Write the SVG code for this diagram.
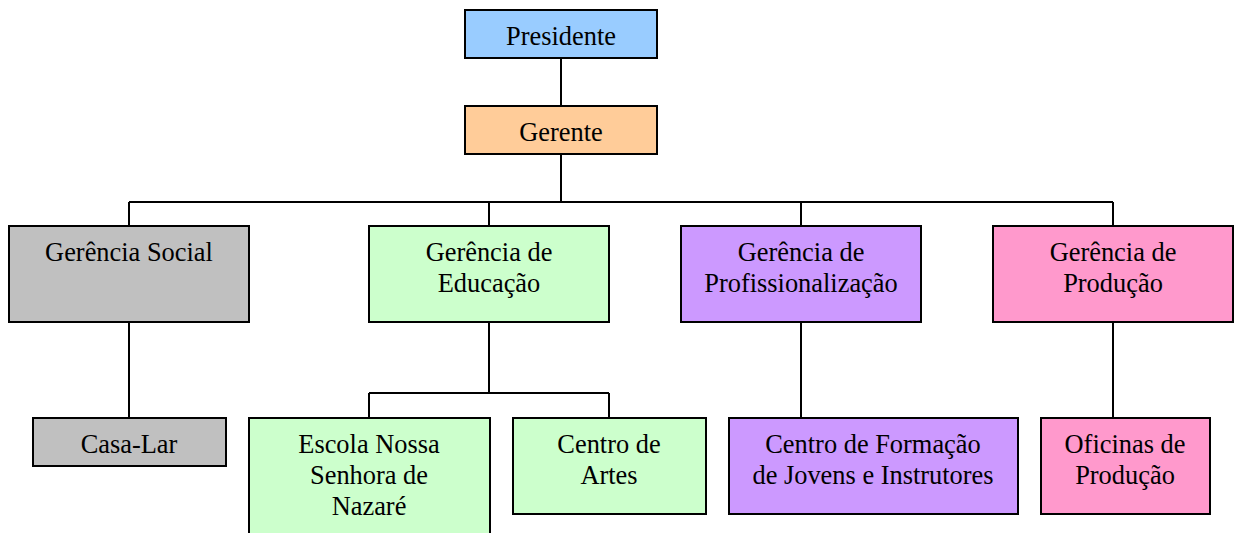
<svg xmlns="http://www.w3.org/2000/svg" width="1234" height="533" viewBox="0 0 1234 533">
<style>
.box{stroke:#000;stroke-width:2}
.t{font-family:"Liberation Serif","Times New Roman",serif;font-size:26.4px;fill:#000;text-anchor:middle}
.c{fill:none;stroke:#000;stroke-width:2}
</style>
<rect width="1234" height="533" fill="#fff"/>
<g id="connectors">
<path class="c" d="M561 58V106M561 154V202M129 202H1113M129 202V226M489 202V226M801 202V226M1113 202V226"/>
<path class="c" d="M129 322V418M489 322V393M369 393H609M369 393V418M609 393V418M801 322V418M1113 322V418"/>
</g>
<g id="presidente"><rect class="box" x="465" y="10" width="192" height="48" fill="#99CCFF"/><text class="t" x="561" y="45">Presidente</text></g>
<g id="gerente"><rect class="box" x="465" y="106" width="192" height="48" fill="#FFCC99"/><text class="t" x="561" y="141">Gerente</text></g>
<g id="gerencia-social"><rect class="box" x="9" y="226" width="240" height="96" fill="#C0C0C0"/><text class="t" x="129" y="261">Gerência Social</text></g>
<g id="gerencia-educacao"><rect class="box" x="369" y="226" width="240" height="96" fill="#CCFFCC"/><text class="t" x="489" y="261">Gerência de</text><text class="t" x="489" y="292">Educação</text></g>
<g id="gerencia-profissionalizacao"><rect class="box" x="681" y="226" width="240" height="96" fill="#CC99FF"/><text class="t" x="801" y="261">Gerência de</text><text class="t" x="801" y="292">Profissionalização</text></g>
<g id="gerencia-producao"><rect class="box" x="993" y="226" width="240" height="96" fill="#FF99CC"/><text class="t" x="1113" y="261">Gerência de</text><text class="t" x="1113" y="292">Produção</text></g>
<g id="casa-lar"><rect class="box" x="33" y="418" width="193" height="48" fill="#C0C0C0"/><text class="t" x="129" y="453">Casa-Lar</text></g>
<g id="escola"><rect class="box" x="249" y="418" width="241" height="130" fill="#CCFFCC"/><text class="t" x="369" y="453">Escola Nossa</text><text class="t" x="369" y="484">Senhora de</text><text class="t" x="369" y="515">Nazaré</text></g>
<g id="centro-artes"><rect class="box" x="513" y="418" width="193" height="96" fill="#CCFFCC"/><text class="t" x="609" y="453">Centro de</text><text class="t" x="609" y="484">Artes</text></g>
<g id="centro-formacao"><rect class="box" x="729" y="418" width="289" height="96" fill="#CC99FF"/><text class="t" x="873" y="453">Centro de Formação</text><text class="t" x="873" y="484">de Jovens e Instrutores</text></g>
<g id="oficinas"><rect class="box" x="1041" y="418" width="169" height="96" fill="#FF99CC"/><text class="t" x="1125" y="453">Oficinas de</text><text class="t" x="1125" y="484">Produção</text></g>
</svg>
